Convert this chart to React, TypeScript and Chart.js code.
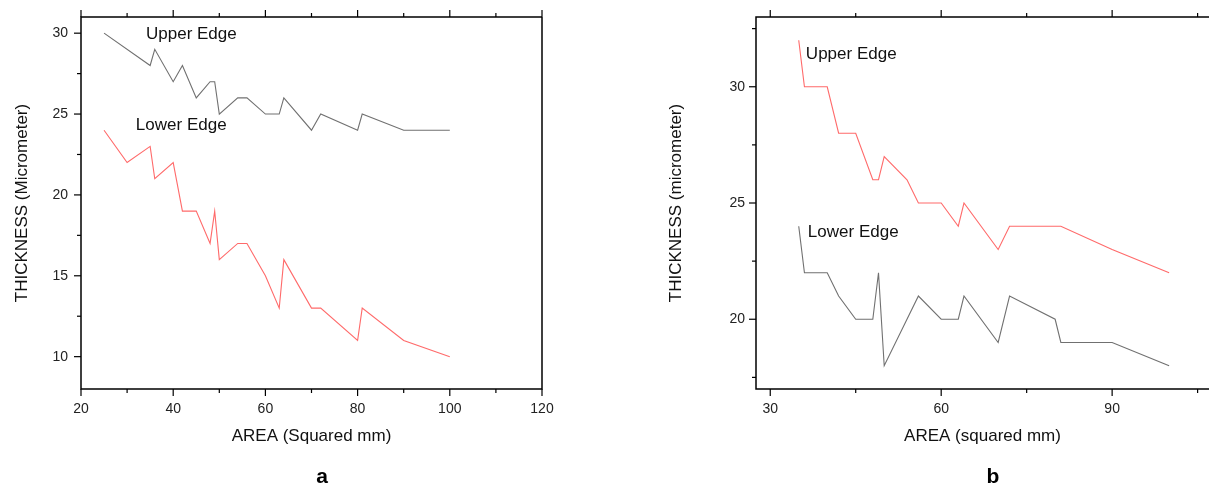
import React, { useEffect, useRef } from "react";
import { Chart, registerables } from "chart.js";

Chart.register(...registerables);

// ---------- Panel a data ----------
const areaA_upper = [25, 35, 36, 40, 42, 45, 48, 49, 50, 54, 56, 60, 63, 64, 70, 72, 80, 81, 90, 100];
const thickA_upper = [30, 28, 29, 27, 28, 26, 27, 27, 25, 26, 26, 25, 25, 26, 24, 25, 24, 25, 24, 24];
const areaA_lower = [25, 30, 35, 36, 40, 42, 45, 48, 49, 50, 54, 56, 60, 63, 64, 70, 72, 80, 81, 90, 100];
const thickA_lower = [24, 22, 23, 21, 22, 19, 19, 17, 19, 16, 17, 17, 15, 13, 16, 13, 13, 11, 13, 11, 10];
const xTicksA = [20, 40, 60, 80, 100, 120];
const xMinorA = [30, 50, 70, 90, 110];
const yTicksA = [10, 15, 20, 25, 30];
const yMinorA = [12.5, 17.5, 22.5, 27.5];

// ---------- Panel b data ----------
const areaB_upper = [35, 36, 40, 42, 45, 48, 49, 50, 54, 56, 60, 63, 64, 70, 72, 80, 81, 90, 100];
const thickB_upper = [32, 30, 30, 28, 28, 26, 26, 27, 26, 25, 25, 24, 25, 23, 24, 24, 24, 23, 22];
const areaB_lower = [35, 36, 40, 42, 45, 48, 49, 50, 56, 60, 63, 64, 70, 72, 80, 81, 90, 100];
const thickB_lower = [24, 22, 22, 21, 20, 20, 22, 18, 21, 20, 20, 21, 19, 21, 20, 19, 19, 18];
const xTicksB = [30, 60, 90];
const xMinorB = [45, 75, 105];
const yTicksB = [20, 25, 30];
const yMinorB = [17.5, 22.5, 27.5, 32.5];

const FONT = "'Liberation Sans', Arial, Helvetica, sans-serif";
const GRAY = "#707070";
const RED = "#ff6a6a";

type Label = { text: string; x: number; y: number };

type PanelCfg = {
  width: number;
  height: number;
  xMin: number;
  xMax: number;
  yMin: number;
  yMax: number;
  xTicks: number[];
  xMinor: number[];
  yTicks: number[];
  yMinor: number[];
  yAxisWidth: number;
  yTickPad: number;
  yTitlePad: number;
  rightPad: number;
  rightBorder: boolean;
  xTitle: string;
  yTitle: string;
  series: { xs: number[]; ys: number[]; color: string }[];
  labels: Label[];
};

function zeroPad(s: any) {
  s.paddingTop = 0;
  s.paddingBottom = 0;
  s.paddingLeft = 0;
  s.paddingRight = 0;
}

function makeFramePlugin(cfg: PanelCfg) {
  return {
    id: "frameTicks",
    afterDraw(chart: any) {
      const { ctx, chartArea } = chart;
      const { left, right, top, bottom } = chartArea;
      const xs = chart.scales.x;
      const ys = chart.scales.y;
      ctx.save();
      ctx.strokeStyle = "#000";
      ctx.lineWidth = 1.5;
      ctx.beginPath();
      ctx.moveTo(right, top);
      ctx.lineTo(left, top);
      ctx.lineTo(left, bottom);
      ctx.lineTo(right, bottom);
      if (cfg.rightBorder) ctx.lineTo(right, top);
      ctx.stroke();

      ctx.lineWidth = 1.2;
      const drawX = (v: number, len: number) => {
        const p = xs.getPixelForValue(v);
        ctx.beginPath();
        ctx.moveTo(p, bottom);
        ctx.lineTo(p, bottom + len);
        ctx.moveTo(p, top);
        ctx.lineTo(p, top - len);
        ctx.stroke();
      };
      const drawY = (v: number, len: number) => {
        const p = ys.getPixelForValue(v);
        ctx.beginPath();
        ctx.moveTo(left, p);
        ctx.lineTo(left - len, p);
        ctx.stroke();
      };
      cfg.xTicks.forEach((v) => drawX(v, 7));
      cfg.xMinor.forEach((v) => drawX(v, 4));
      cfg.yTicks.forEach((v) => drawY(v, 7));
      cfg.yMinor.forEach((v) => drawY(v, 4));

      ctx.fillStyle = "#111";
      ctx.font = `17px ${FONT}`;
      ctx.textAlign = "left";
      ctx.textBaseline = "middle";
      cfg.labels.forEach((l) => {
        ctx.fillText(l.text, xs.getPixelForValue(l.x), ys.getPixelForValue(l.y));
      });
      ctx.restore();
    },
  };
}

function Panel({ cfg, left }: { cfg: PanelCfg; left: number }) {
  const ref = useRef<HTMLCanvasElement | null>(null);
  useEffect(() => {
    if (!ref.current) return;
    const chart = new Chart(ref.current, {
      type: "line",
      data: {
        datasets: cfg.series.map((s) => ({
          data: s.xs.map((x, i) => ({ x, y: s.ys[i] })),
          borderColor: s.color,
          borderWidth: 1.1,
          pointRadius: 0,
          tension: 0,
          fill: false,
        })),
      },
      options: {
        animation: false,
        responsive: false,
        devicePixelRatio: 1,
        layout: { padding: { top: 17, right: cfg.rightPad, left: 0, bottom: 0 } },
        plugins: { legend: { display: false }, tooltip: { enabled: false } },
        scales: {
          x: {
            type: "linear",
            min: cfg.xMin,
            max: cfg.xMax,
            afterBuildTicks: (s: any) => {
              s.ticks = cfg.xTicks.map((v) => ({ value: v }));
            },
            afterFit: (s: any) => {
              s.height = cfg.height - 389;
              zeroPad(s);
            },
            grid: { display: false, drawTicks: false },
            border: { display: false },
            ticks: {
              font: { family: FONT, size: 14 },
              color: "#222",
              padding: 12,
              maxRotation: 0,
              autoSkip: false,
            },
            title: {
              display: true,
              text: cfg.xTitle,
              font: { family: FONT, size: 17 },
              color: "#111",
              padding: { top: 0, bottom: 40 },
            },
          },
          y: {
            type: "linear",
            min: cfg.yMin,
            max: cfg.yMax,
            afterBuildTicks: (s: any) => {
              s.ticks = cfg.yTicks.map((v) => ({ value: v }));
            },
            afterFit: (s: any) => {
              s.width = cfg.yAxisWidth;
              zeroPad(s);
            },
            grid: { display: false, drawTicks: false },
            border: { display: false },
            ticks: {
              font: { family: FONT, size: 14 },
              color: "#222",
              padding: cfg.yTickPad,
              autoSkip: false,
            },
            title: {
              display: true,
              text: cfg.yTitle,
              font: { family: FONT, size: 17 },
              color: "#111",
              padding: { top: cfg.yTitlePad, bottom: 0 },
            },
          },
        },
      },
      plugins: [makeFramePlugin(cfg)],
    } as any);
    return () => chart.destroy();
  }, [cfg]);
  return (
    <canvas
      ref={ref}
      width={cfg.width}
      height={cfg.height}
      style={{ position: "absolute", left, top: 0, width: cfg.width, height: cfg.height }}
    />
  );
}

const cfgA: PanelCfg = {
  width: 560,
  height: 487,
  xMin: 20,
  xMax: 120,
  yMin: 8,
  yMax: 31,
  xTicks: xTicksA,
  xMinor: xMinorA,
  yTicks: yTicksA,
  yMinor: yMinorA,
  yAxisWidth: 81,
  yTickPad: 13,
  yTitlePad: 12,
  rightPad: 18,
  rightBorder: true,
  xTitle: "AREA (Squared mm)",
  yTitle: "THICKNESS (Micrometer)",
  series: [
    { xs: areaA_upper, ys: thickA_upper, color: GRAY },
    { xs: areaA_lower, ys: thickA_lower, color: RED },
  ],
  labels: [
    { text: "Upper Edge", x: 34.1, y: 29.9 },
    { text: "Lower Edge", x: 31.9, y: 24.28 },
  ],
};

const cfgB: PanelCfg = {
  width: 559,
  height: 487,
  xMin: 27.5,
  xMax: 107,
  yMin: 17,
  yMax: 33,
  xTicks: xTicksB,
  xMinor: xMinorB,
  yTicks: yTicksB,
  yMinor: yMinorB,
  yAxisWidth: 106,
  yTickPad: 11,
  yTitlePad: 16,
  rightPad: 0,
  rightBorder: false,
  xTitle: "AREA (squared mm)",
  yTitle: "THICKNESS (micrometer)",
  series: [
    { xs: areaB_upper, ys: thickB_upper, color: RED },
    { xs: areaB_lower, ys: thickB_lower, color: GRAY },
  ],
  labels: [
    { text: "Upper Edge", x: 36.25, y: 31.39 },
    { text: "Lower Edge", x: 36.6, y: 23.76 },
  ],
};

export default function App() {
  const caption: React.CSSProperties = {
    position: "absolute",
    top: 464,
    width: 40,
    textAlign: "center",
    fontFamily: FONT,
    fontWeight: "bold",
    fontSize: 21,
    lineHeight: "24px",
    color: "#000",
  };
  return (
    <div
      style={{
        position: "absolute",
        left: 0,
        top: 0,
        width: 1209,
        height: 487,
        overflow: "hidden",
        background: "#fff",
      }}
    >
      <Panel cfg={cfgA} left={0} />
      <Panel cfg={cfgB} left={650} />
      <div style={{ ...caption, left: 302 }}>a</div>
      <div style={{ ...caption, left: 973 }}>b</div>
    </div>
  );
}
